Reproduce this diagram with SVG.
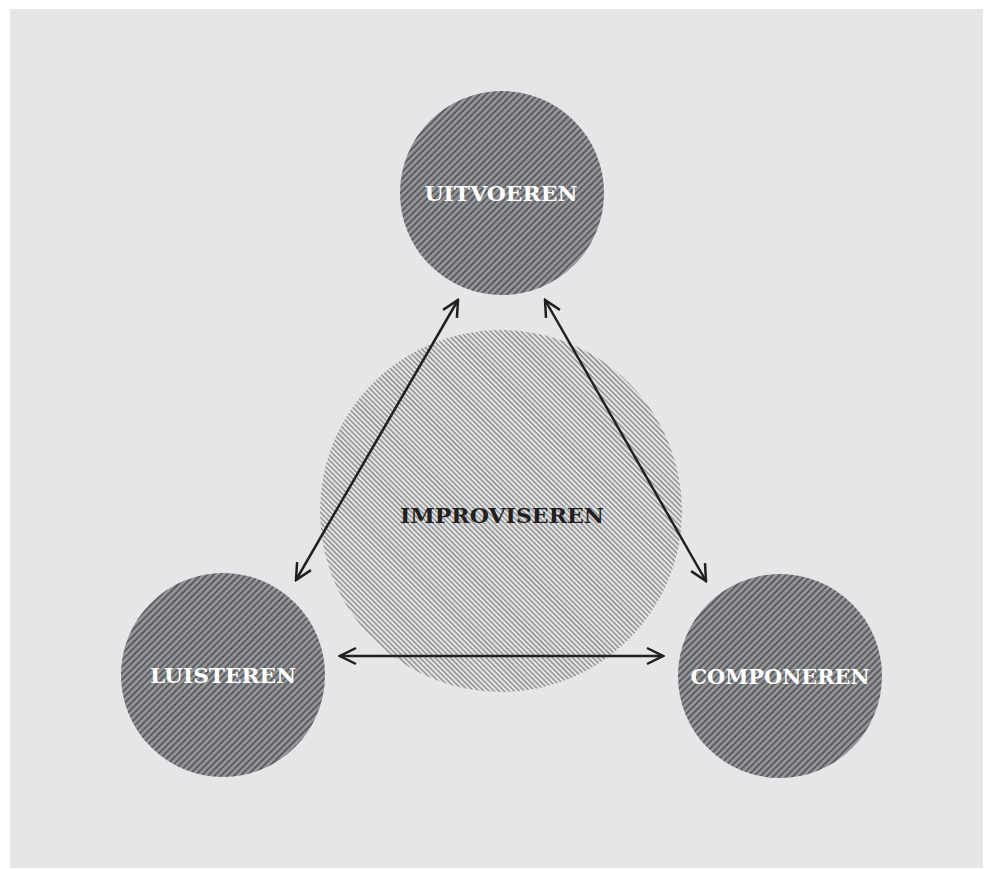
<svg xmlns="http://www.w3.org/2000/svg" width="985" height="869" viewBox="0 0 985 869">
<defs>
<pattern id="darkHatch" width="4.6" height="4" patternUnits="userSpaceOnUse" patternTransform="rotate(45)">
<rect width="4.6" height="4" fill="#939598"/>
<line x1="1" y1="0" x2="1" y2="4" stroke="#3b3b3d" stroke-width="1.2"/>
</pattern>
<pattern id="lightHatch" width="3.6" height="4" patternUnits="userSpaceOnUse" patternTransform="rotate(-45)">
<rect width="3.6" height="4" fill="#e5e6e7"/>
<line x1="1" y1="0" x2="1" y2="4" stroke="#4a4a4c" stroke-width="0.9"/>
</pattern>
<marker id="ah" viewBox="0 0 20 20" refX="18" refY="10" markerWidth="20" markerHeight="20" markerUnits="userSpaceOnUse" orient="auto-start-reverse">
<path d="M2,2 L18,10 L2,18" fill="none" stroke="#231f20" stroke-width="2.5"/>
</marker>
<style>
.node-dark{fill:url(#darkHatch);}
.lbl{font-family:"DejaVu Serif","Liberation Serif",serif;font-weight:bold;font-size:20px;text-anchor:middle;}
.white{fill:#ffffff;}
.conn{stroke:#231f20;stroke-width:2.5;fill:none;marker-start:url(#ah);marker-end:url(#ah);}
</style>
</defs>
<rect x="0" y="0" width="985" height="869" fill="#ffffff"/>
<rect x="10" y="9" width="973" height="859" fill="#e5e6e7"/>
<g id="improviseren">
<circle cx="501" cy="511" r="181" fill="url(#lightHatch)"/>
<text class="lbl" x="502" y="523" fill="#231f20" textLength="204" lengthAdjust="spacingAndGlyphs">IMPROVISEREN</text>
</g>
<g id="uitvoeren">
<circle class="node-dark" cx="502" cy="193" r="102"/>
<text class="lbl white" x="501" y="201" textLength="153" lengthAdjust="spacingAndGlyphs">UITVOEREN</text>
</g>
<g id="luisteren">
<circle class="node-dark" cx="223" cy="675" r="102"/>
<text class="lbl white" x="223" y="683" textLength="146" lengthAdjust="spacingAndGlyphs">LUISTEREN</text>
</g>
<g id="componeren">
<circle class="node-dark" cx="780" cy="676" r="102"/>
<text class="lbl white" x="780" y="684" textLength="179" lengthAdjust="spacingAndGlyphs">COMPONEREN</text>
</g>
<g id="connectors">
<line class="conn" x1="458" y1="300" x2="296" y2="580"/>
<line class="conn" x1="545" y1="300" x2="706" y2="581"/>
<line class="conn" x1="340" y1="656" x2="663" y2="656"/>
</g>
</svg>
